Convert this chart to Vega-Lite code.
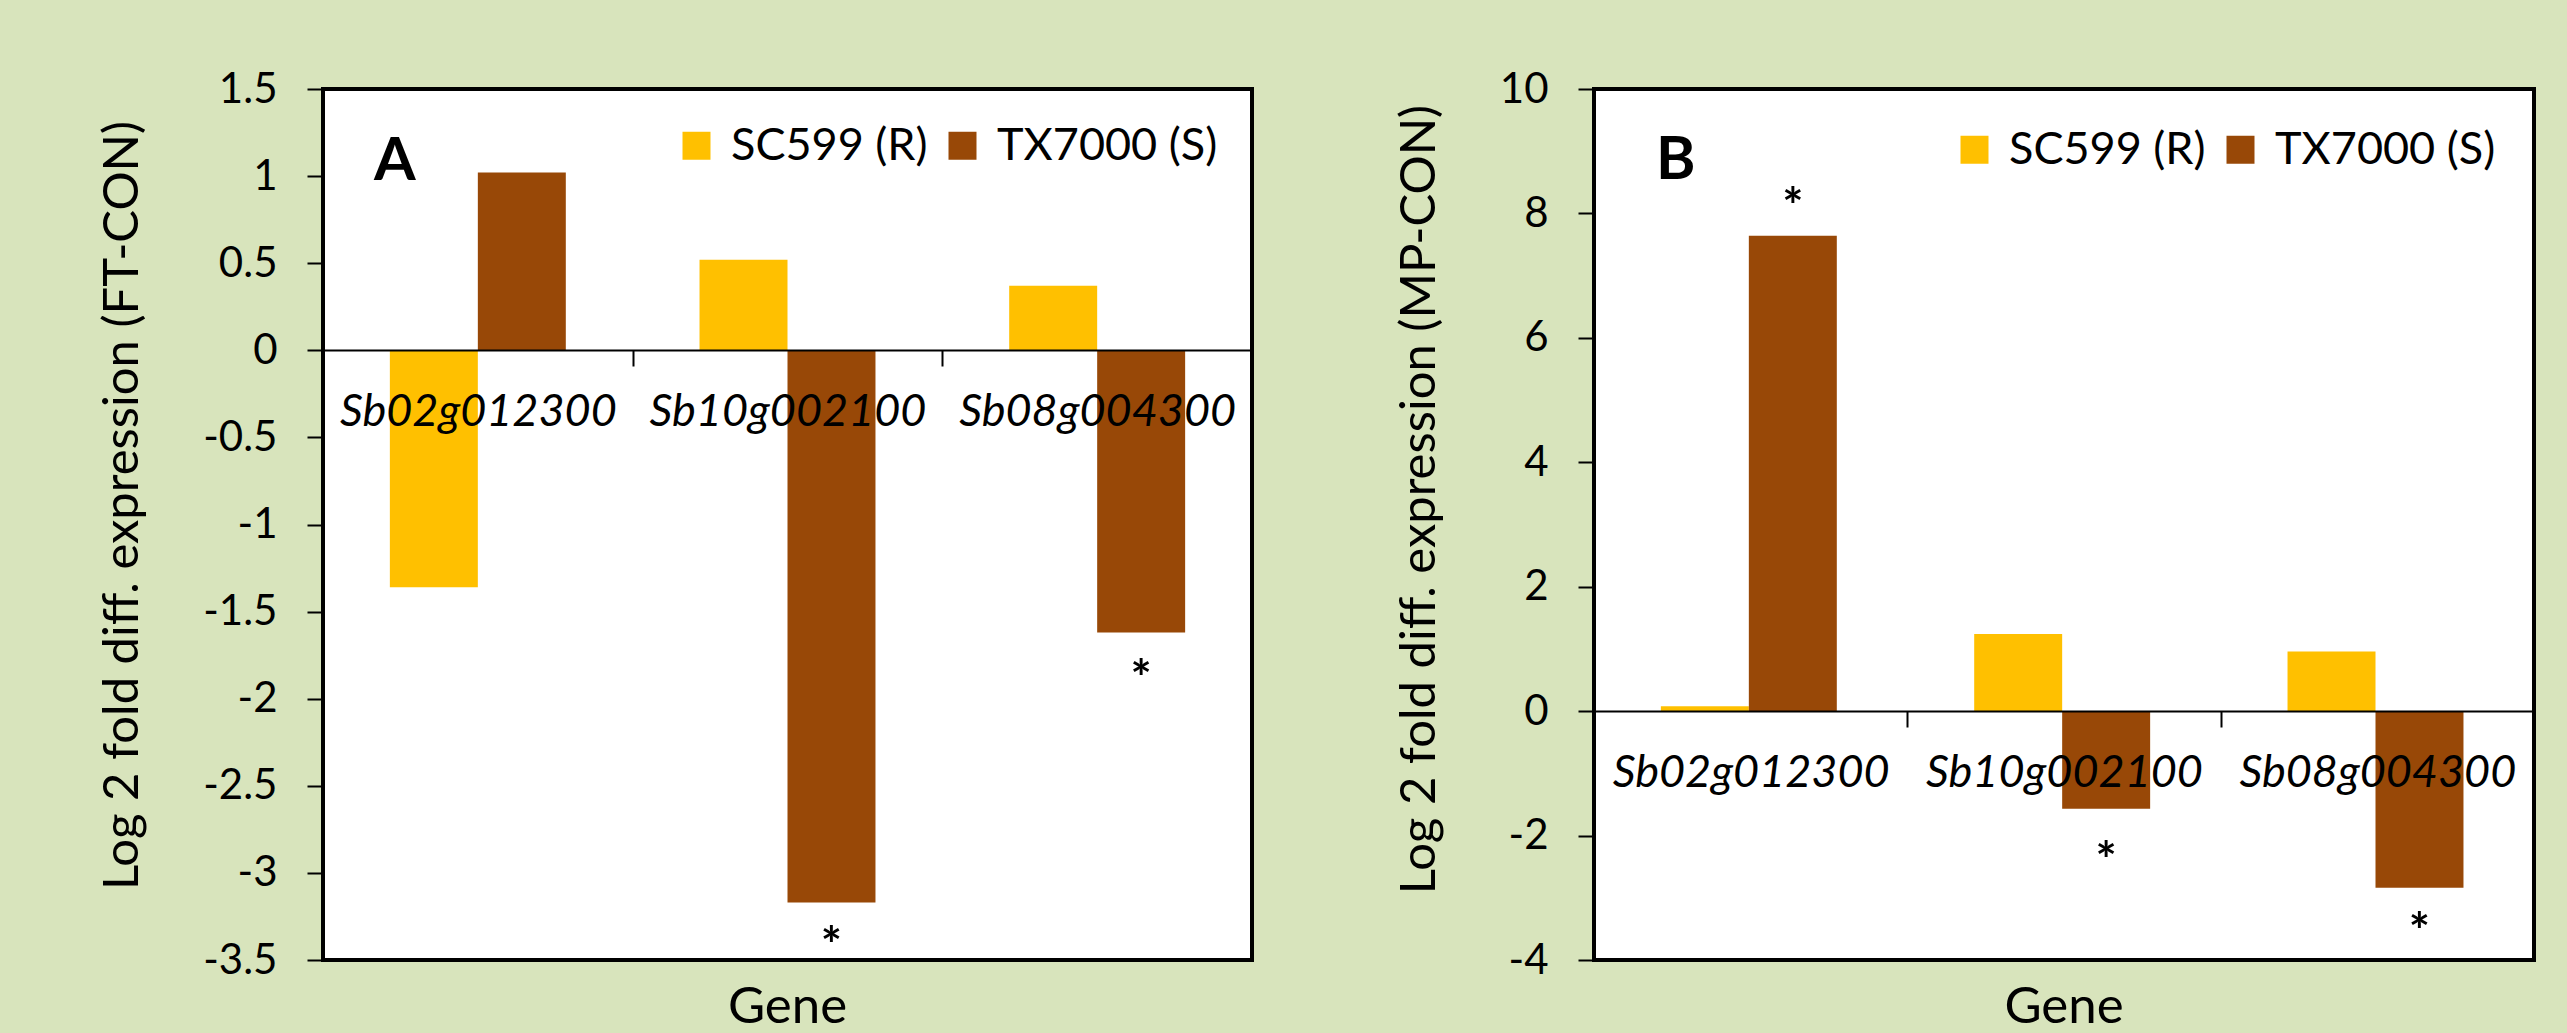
{
  "$schema": "https://vega.github.io/schema/vega-lite/v6.json",
  "background": "#D8E4BC",
  "padding": {"left": 96, "top": 66, "right": 49, "bottom": 0},
  "spacing": 138,
  "datasets": {
    "panelA": [
      {"gene": "Sb02g012300", "cultivar": "SC599 (R)", "value": -1.36, "star": null},
      {"gene": "Sb02g012300", "cultivar": "TX7000 (S)", "value": 1.02, "star": null},
      {"gene": "Sb10g002100", "cultivar": "SC599 (R)", "value": 0.52, "star": null},
      {"gene": "Sb10g002100", "cultivar": "TX7000 (S)", "value": -3.17, "star": -3.36},
      {"gene": "Sb08g004300", "cultivar": "SC599 (R)", "value": 0.37, "star": null},
      {"gene": "Sb08g004300", "cultivar": "TX7000 (S)", "value": -1.62, "star": -1.83}
    ],
    "panelB": [
      {"gene": "Sb02g012300", "cultivar": "SC599 (R)", "value": 0.08, "star": null},
      {"gene": "Sb02g012300", "cultivar": "TX7000 (S)", "value": 7.64, "star": 8.26},
      {"gene": "Sb10g002100", "cultivar": "SC599 (R)", "value": 1.24, "star": null},
      {"gene": "Sb10g002100", "cultivar": "TX7000 (S)", "value": -1.57, "star": -2.25},
      {"gene": "Sb08g004300", "cultivar": "SC599 (R)", "value": 0.96, "star": null},
      {"gene": "Sb08g004300", "cultivar": "TX7000 (S)", "value": -2.84, "star": -3.39}
    ]
  },
  "hconcat": [
    {
      "width": 929,
      "height": 871,
      "data": {"name": "panelA"},
      "title": {"text": "Gene", "orient": "bottom", "anchor": "middle", "frame": "group", "offset": 2, "font": "Lato", "fontSize": 51, "fontWeight": "normal", "color": "black"},
      "layer": [
        {
          "mark": {"type": "bar"},
          "encoding": {
            "x": {"field": "gene", "type": "nominal", "sort": ["Sb02g012300", "Sb10g002100", "Sb08g004300"],
                  "scale": {"paddingInner": 0, "paddingOuter": 0},
                  "axis": {"orient": "bottom", "offset": -610, "title": null, "labelAngle": 0, "labelFont": "Lato", "labelFontStyle": "italic", "labelFontSize": 45, "labelColor": "black", "labelLimit": 0, "domain": true, "domainColor": "black", "domainWidth": 2, "ticks": true, "tickBand": "extent", "tickSize": 16, "tickColor": "black", "tickWidth": 2, "labelPadding": 23, "zindex": 1, "grid": false}},
            "xOffset": {"field": "cultivar", "type": "nominal", "sort": ["SC599 (R)", "TX7000 (S)"], "scale": {"paddingOuter": 0.76, "paddingInner": 0}},
            "y": {"field": "value", "type": "quantitative", "scale": {"domain": [-3.5, 1.5], "nice": false, "zero": false},
                  "axis": {"title": "Log 2 fold diff. expression  (FT-CON)", "titleY": 416, "values": [-3.5, -3, -2.5, -2, -1.5, -1, -0.5, 0, 0.5, 1, 1.5], "labelExpr": "'' + datum.value"}},
            "color": {"field": "cultivar", "type": "nominal",
                      "scale": {"domain": ["SC599 (R)", "TX7000 (S)"], "range": ["#FFC000", "#984807"]},
                      "legend": {"orient": "top-right", "direction": "horizontal", "title": null, "symbolType": "square", "symbolSize": 784, "symbolStrokeWidth": 0, "symbolOpacity": 1, "labelFont": "Lato", "labelFontSize": 45, "labelColor": "black", "labelLimit": 0, "labelOffset": 12, "columnPadding": 12, "offset": 34, "padding": 0}}
          }
        },
        {
          "transform": [{"filter": "datum.star != null"}],
          "mark": {"type": "text", "text": "*", "font": "Lato", "fontSize": 50, "fontWeight": "bold", "color": "black", "baseline": "middle", "dy": 12},
          "encoding": {
            "x": {"field": "gene", "type": "nominal", "sort": ["Sb02g012300", "Sb10g002100", "Sb08g004300"]},
            "xOffset": {"field": "cultivar", "type": "nominal", "sort": ["SC599 (R)", "TX7000 (S)"]},
            "y": {"field": "star", "type": "quantitative"}
          }
        },
        {
          "data": {"values": [{"label": "A"}]},
          "mark": {"type": "text", "font": "Lato", "fontSize": 60, "fontWeight": "bold", "color": "black", "align": "left", "baseline": "alphabetic", "dx": 51},
          "encoding": {
            "x": {"datum": "Sb02g012300", "type": "nominal", "bandPosition": 0},
            "y": {"datum": 0.98, "type": "quantitative"},
            "text": {"field": "label"}
          }
        }
      ]
    },
    {
      "width": 940,
      "height": 871,
      "data": {"name": "panelB"},
      "title": {"text": "Gene", "orient": "bottom", "anchor": "middle", "frame": "group", "offset": 2, "font": "Lato", "fontSize": 51, "fontWeight": "normal", "color": "black"},
      "layer": [
        {
          "mark": {"type": "bar"},
          "encoding": {
            "x": {"field": "gene", "type": "nominal", "sort": ["Sb02g012300", "Sb10g002100", "Sb08g004300"],
                  "scale": {"paddingInner": 0, "paddingOuter": 0},
                  "axis": {"orient": "bottom", "offset": -249, "title": null, "labelAngle": 0, "labelFont": "Lato", "labelFontStyle": "italic", "labelFontSize": 45, "labelColor": "black", "labelLimit": 0, "domain": true, "domainColor": "black", "domainWidth": 2, "ticks": true, "tickBand": "extent", "tickSize": 16, "tickColor": "black", "tickWidth": 2, "labelPadding": 23, "zindex": 1, "grid": false}},
            "xOffset": {"field": "cultivar", "type": "nominal", "sort": ["SC599 (R)", "TX7000 (S)"], "scale": {"paddingOuter": 0.76, "paddingInner": 0}},
            "y": {"field": "value", "type": "quantitative", "scale": {"domain": [-4, 10], "nice": false, "zero": false},
                  "axis": {"title": "Log 2 fold diff. expression  (MP-CON)", "titleY": 410, "values": [-4, -2, 0, 2, 4, 6, 8, 10], "labelExpr": "'' + datum.value"}},
            "color": {"field": "cultivar", "type": "nominal",
                      "scale": {"domain": ["SC599 (R)", "TX7000 (S)"], "range": ["#FFC000", "#984807"]},
                      "legend": {"orient": "top-right", "direction": "horizontal", "title": null, "symbolType": "square", "symbolSize": 784, "symbolStrokeWidth": 0, "symbolOpacity": 1, "labelFont": "Lato", "labelFontSize": 45, "labelColor": "black", "labelLimit": 0, "labelOffset": 12, "columnPadding": 12, "offset": 38, "padding": 0}}
          }
        },
        {
          "transform": [{"filter": "datum.star != null"}],
          "mark": {"type": "text", "text": "*", "font": "Lato", "fontSize": 50, "fontWeight": "bold", "color": "black", "baseline": "middle", "dy": 12},
          "encoding": {
            "x": {"field": "gene", "type": "nominal", "sort": ["Sb02g012300", "Sb10g002100", "Sb08g004300"]},
            "xOffset": {"field": "cultivar", "type": "nominal", "sort": ["SC599 (R)", "TX7000 (S)"]},
            "y": {"field": "star", "type": "quantitative"}
          }
        },
        {
          "data": {"values": [{"label": "B"}]},
          "mark": {"type": "text", "font": "Lato", "fontSize": 60, "fontWeight": "bold", "color": "black", "align": "left", "baseline": "alphabetic", "dx": 62},
          "encoding": {
            "x": {"datum": "Sb02g012300", "type": "nominal", "bandPosition": 0},
            "y": {"datum": 8.55, "type": "quantitative"},
            "text": {"field": "label"}
          }
        }
      ],
      "resolve": {"scale": {"color": "independent"}}
    }
  ],
  "resolve": {"scale": {"color": "independent"}},
  "config": {
    "view": {"fill": "white", "stroke": "black", "strokeWidth": 4},
    "axis": {"labelFont": "Lato", "labelFontSize": 42, "labelColor": "black", "tickColor": "black", "tickWidth": 2, "tickSize": 16, "labelPadding": 30, "domain": false, "grid": false, "titleFont": "Lato", "titleFontSize": 49, "titleFontWeight": "normal", "titleColor": "black", "titlePadding": 55}
  }
}
